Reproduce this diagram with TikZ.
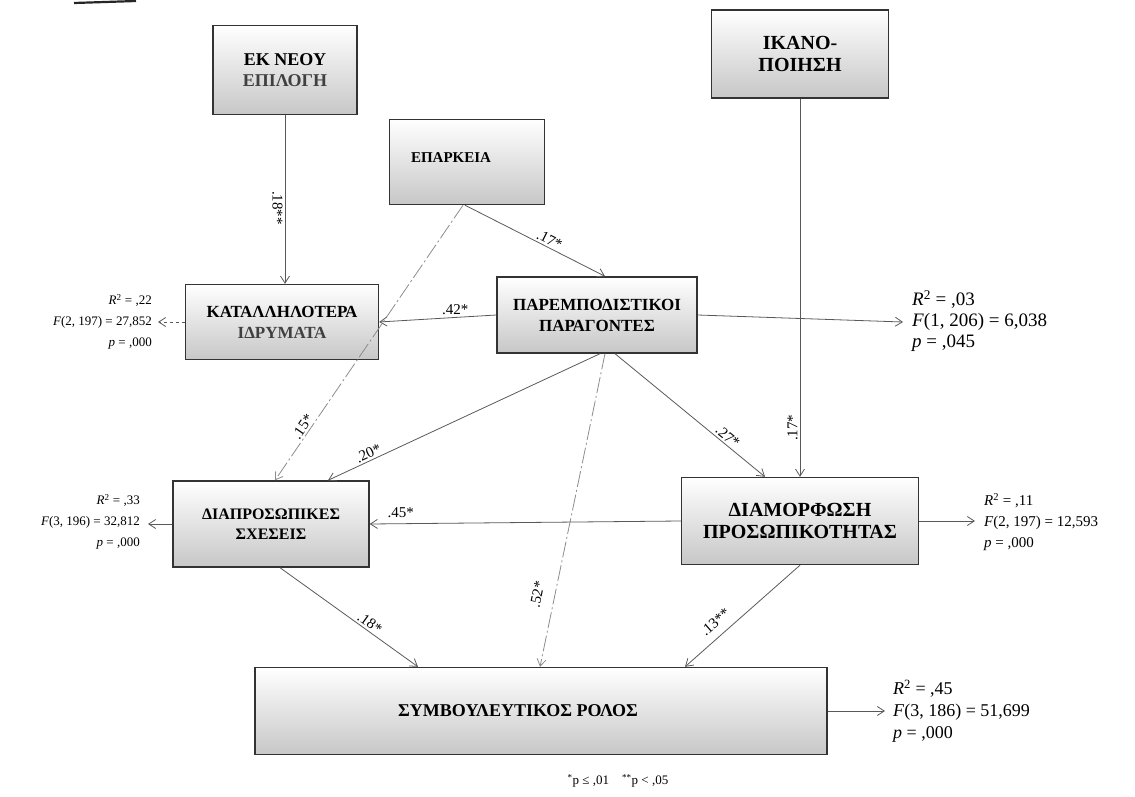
\documentclass[tikz,border=0pt]{standalone}
\usepackage{fontspec}
\setmainfont{Liberation Serif}
\usetikzlibrary{arrows.meta}
\tikzset{
  box/.style={draw=black!80, line width=1.4pt, top color=white, bottom color=black!22,
    align=center, inner sep=2pt, font=\fontsize{17}{23}\selectfont\bfseries},
  link/.style={draw=black!65, line width=0.8pt, -{Straight Barb[length=7pt,width=9pt]}},
  dlink/.style={link, draw=black!45, dash pattern=on 16pt off 3pt on 2pt off 3pt},
  coef/.style={font=\fontsize{15}{15}\selectfont, inner sep=2pt},
  statbig/.style={font=\fontsize{19}{21}\selectfont, align=left, anchor=west, inner sep=0pt},
  statmid/.style={font=\fontsize{15}{21}\selectfont, align=left, anchor=west, inner sep=0pt},
  statr/.style={font=\fontsize{13}{21}\selectfont, align=right, anchor=east, inner sep=0pt}
}
\newcommand{\Rsq}{\textit{R}\textsuperscript{2}}
\begin{document}
\begin{tikzpicture}[x=1pt,y=-1pt]
\useasboundingbox (0,0) rectangle (1135,797);
% artifact at top-left
\draw[line width=2.2pt, black!85] (74,3) -- (136,1);

% boxes
\node[box, minimum width=144pt, minimum height=89pt, font=\fontsize{18}{23}\selectfont\bfseries] (ekneou) at (285,70) {ΕΚ ΝΕΟΥ\\[-2pt]{\color{black!75}ΕΠΙΛΟΓΗ}};
\node[box, minimum width=177pt, minimum height=88pt, font=\fontsize{20}{24}\selectfont\bfseries] (ikano) at (800,54) {ΙΚΑΝΟ-\\[-2pt]ΠΟΙΗΣΗ};
\node[box, minimum width=155pt, minimum height=85pt, font=\fontsize{15}{20}\selectfont\bfseries] (eparkeia) at (467,162) {\raisebox{8pt}{ΕΠΑΡΚΕΙΑ}\hspace*{32pt}};
\node[box, minimum width=193pt, minimum height=75pt] (katall) at (282,322) {ΚΑΤΑΛΛΗΛΟΤΕΡΑ\\[-2pt]{\color{black!75}ΙΔΡΥΜΑΤΑ}};
\node[box, minimum width=200pt, minimum height=76pt] (paremp) at (597,315) {ΠΑΡΕΜΠΟΔΙΣΤΙΚΟΙ\\[-2pt]ΠΑΡΑΓΟΝΤΕΣ};
\node[box, minimum width=196pt, minimum height=86pt, font=\fontsize{16}{22}\selectfont\bfseries] (diapros) at (271,524) {ΔΙΑΠΡΟΣΩΠΙΚΕΣ\\[-2pt]ΣΧΕΣΕΙΣ};
\node[box, minimum width=237pt, minimum height=87pt, font=\fontsize{20}{24}\selectfont\bfseries] (diamorf) at (800,521) {ΔΙΑΜΟΡΦΩΣΗ\\[-2pt]ΠΡΟΣΩΠΙΚΟΤΗΤΑΣ};
\node[box, minimum width=572pt, minimum height=87pt, font=\fontsize{18}{20}\selectfont\bfseries] (symb) at (541,711) {\raisebox{-4pt}{ΣΥΜΒΟΥΛΕΥΤΙΚΟΣ ΡΟΛΟΣ}\hspace*{46pt}};

% free ends
\coordinate (katallout) at (158,322);
\coordinate (parempout) at (903,322);
\coordinate (diaprosout) at (148,524);
\coordinate (diamorfout) at (975,521);
\coordinate (symbout) at (885,711);

% connectors
\draw[link] (ekneou.south) -- (ekneou.south |- katall.north)
  node[coef, pos=0.55, rotate=-90, anchor=north] {.18**};
\draw[link] (ikano.south) -- (ikano.south |- diamorf.north)
  node[coef, pos=0.87, rotate=90, anchor=south] {.17*};
\draw[link] ([xshift=-2pt]eparkeia.south) -- ([xshift=8pt]paremp.north)
  node[coef, pos=0.58, sloped, above] {.17*};
\draw[dlink] ([xshift=-4pt]eparkeia.south) -- ([xshift=4pt]diapros.north)
  node[coef, pos=0.82, sloped, above] {.15*};
\draw[link] (paremp.west) -- (katall.east)
  node[coef, pos=0.35, above] {.42*};
\draw[link, dashed] (katall.west) -- (katallout);
\draw[link] (paremp.east) -- (parempout);
\draw[link] ([xshift=3pt]paremp.south) -- ([xshift=57pt]diapros.north)
  node[coef, pos=0.84, sloped, above] {.20*};
\draw[dlink] ([xshift=8pt]paremp.south) -- ([xshift=-1pt]symb.north)
  node[coef, pos=0.78, sloped, above=10pt] {.52*};
\draw[link] ([xshift=18pt]paremp.south) -- ([xshift=-35pt]diamorf.north)
  node[coef, pos=0.72, sloped, above] {.27*};
\draw[link] (diamorf.west) -- (diapros.east)
  node[coef, pos=0.9, above=4pt] {.45*};
\draw[link] (diamorf.east) -- (diamorfout);
\draw[link] (diapros.west) -- (diaprosout);
\draw[link] ([xshift=9pt]diapros.south) -- ([xshift=-123pt]symb.north)
  node[coef, pos=0.62, sloped, above] {.18*};
\draw[link] (diamorf.south) -- ([xshift=144pt]symb.north)
  node[coef, pos=0.66, sloped, above=6pt] {.13**};
\draw[link] (symb.east) -- (symbout);

% statistics
\node[statr] (stk) at (152,322) {\Rsq{} = ,22\\\textit{F}(2, 197) = 27,852\\\textit{p} = ,000};
\node[statbig] (stp) at (912,321) {\Rsq{} = ,03\\\textit{F}(1, 206) = 6,038\\\textit{p} = ,045};
\node[statr] (std) at (140,522) {\Rsq{} = ,33\\\textit{F}(3, 196) = 32,812\\\textit{p} = ,000};
\node[statmid] (stm) at (984,522) {\Rsq{} = ,11\\\textit{F}(2, 197) = 12,593\\\textit{p} = ,000};
\node[statbig, font=\fontsize{18}{22}\selectfont] (sts) at (893,711) {\Rsq{} = ,45\\\textit{F}(3, 186) = 51,699\\\textit{p} = ,000};

% footnote
\node[font=\fontsize{13}{13}\selectfont, inner sep=0pt] (foot) at (618,781) {\textsuperscript{*}p ≤ ,01\quad \textsuperscript{**}p < ,05};
\end{tikzpicture}
\end{document}
